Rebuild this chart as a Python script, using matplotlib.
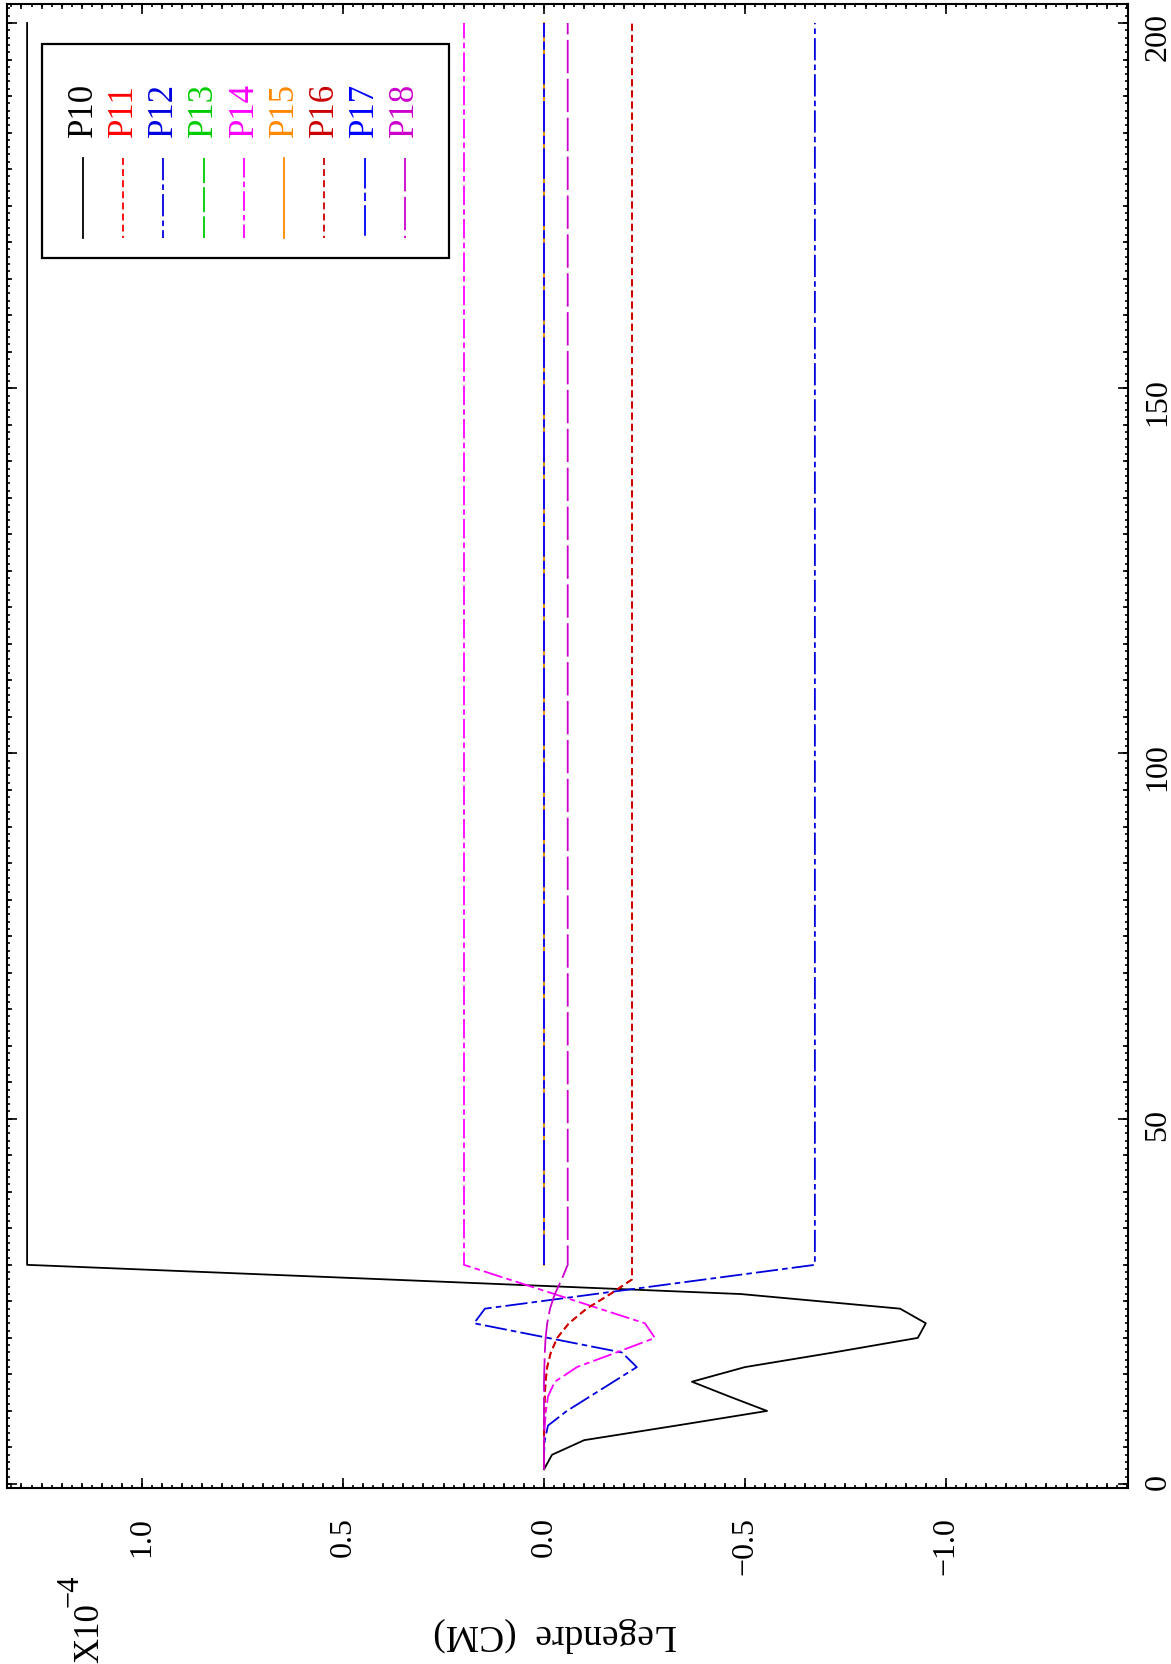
import numpy as np
import matplotlib
matplotlib.use("Agg")
import matplotlib.pyplot as plt
from matplotlib.ticker import MultipleLocator, NullLocator
from matplotlib.lines import Line2D
from matplotlib.patches import Rectangle

plt.rcParams['font.family'] = ['Liberation Serif', 'DejaVu Serif']
plt.rcParams['lines.scale_dashes'] = False

nan = float('nan')

# abscissa (0..200) and Legendre values in units of 1e-4 CM
xs = [2, 4, 6, 8, 10, 12, 14, 16, 18, 20, 22, 24, 26, 28, 30, 200]
p10 = [0, -0.02, -0.1, -0.33, -0.555, -0.46, -0.368, -0.50, -0.72, -0.93, -0.95, -0.886, -0.49, 0.39, 1.286, 1.286]
p11 = [0, 0, 0, 0, -0.001, -0.002, -0.004, -0.008, -0.017, -0.033, -0.062, -0.106, -0.165, -0.219, -0.219, -0.219]
p12 = [0, 0, -0.002, -0.01, -0.057, -0.115, -0.173, -0.231, -0.194, -0.01, 0.174, 0.147, -0.127, -0.40, -0.674, -0.674]
p13 = [nan] * 14 + [0, 0]
p14 = [0, 0, 0, -0.002, -0.005, -0.01, -0.027, -0.082, -0.18, -0.276, -0.251, -0.138, -0.026, 0.087, 0.199, 0.199]
p15 = [nan] * 14 + [0, 0]
p16 = [0, 0, 0, 0, -0.001, -0.002, -0.004, -0.008, -0.017, -0.033, -0.062, -0.106, -0.165, -0.219, -0.219, -0.219]
p17 = [nan] * 14 + [0, 0]
p18 = [0, 0, 0, 0, 0, 0, 0, -0.001, -0.002, -0.004, -0.008, -0.015, -0.027, -0.044, -0.059, -0.059]

names = ['P10', 'P11', 'P12', 'P13', 'P14', 'P15', 'P16', 'P17', 'P18']
series = [p10, p11, p12, p13, p14, p15, p16, p17, p18]
colors = ['black', '#ff0000', '#0000dd', '#00cc00', '#ff00ff', '#ff8800', '#cc0000', '#0000ff', '#cc00cc']
styles = ['-', (0, (5, 3)), (0, (16, 3, 4, 3)), (0, (18, 3)), (0, (14, 3, 4, 3)),
          '-', (0, (5, 3)), (0, (22, 3, 6, 3)), (0, (24, 4))]

fig = plt.figure(figsize=(11.71, 16.65), dpi=100)
pos = [7 / 1171, 176 / 1665, 1121 / 1171, 1484 / 1665]
ax = fig.add_axes(pos)

for vals, c, ls in zip(series, colors, styles):
    ax.plot(vals, xs, color=c, ls=ls, lw=1.3)

ax.set_xlim(1.336, -1.453)
ax.set_ylim(-0.55, 202.6)

ax.xaxis.set_major_locator(MultipleLocator(0.5))
ax.xaxis.set_minor_locator(MultipleLocator(0.025))
ax.yaxis.set_major_locator(MultipleLocator(50))
ax.yaxis.set_minor_locator(MultipleLocator(1))
ax.xaxis.set_major_formatter(lambda v, p: f"{v:.1f}".replace('-', '\u2212'))
ax.tick_params(which='both', direction='in', top=True, bottom=True, left=True, right=True, width=1.2)
ax.tick_params(which='major', length=7)
ax.tick_params(which='minor', length=2)
ax.tick_params(axis='x', labelrotation=90, labelsize=23, pad=20)
ax.tick_params(axis='y', labelleft=False, labelright=True, labelrotation=90, labelsize=23, pad=11)
for s in ax.spines.values():
    s.set_linewidth(1.5)

# medium ticks
ax2 = fig.add_axes(pos)
ax2.set_xlim(ax.get_xlim())
ax2.set_ylim(ax.get_ylim())
ax2.patch.set_visible(False)
for s in ax2.spines.values():
    s.set_visible(False)
ax2.xaxis.set_major_locator(MultipleLocator(0.05))
ax2.yaxis.set_major_locator(MultipleLocator(5))
ax2.xaxis.set_minor_locator(NullLocator())
ax2.yaxis.set_minor_locator(NullLocator())
ax2.tick_params(which='major', direction='in', length=3.5, width=1.2, top=True, bottom=True,
                left=True, right=True, labelbottom=False, labelleft=False)

# legend box
ax.add_patch(Rectangle((0.0312, 0.8288), 0.3631, 0.1442, transform=ax.transAxes,
                       fill=False, lw=1.6, ec='black', zorder=5))
for i, (nm, c, ls) in enumerate(zip(names, colors, styles)):
    cx = 0.0678 + i * 0.0359
    ax.add_line(Line2D([cx, cx], [0.8962, 0.8423], transform=ax.transAxes,
                       color=c, ls=ls, lw=1.3, zorder=5))
    ax.text(cx, 0.911, nm, transform=ax.transAxes, rotation=90, ha='center', va='bottom',
            color=c, fontsize=25, zorder=5)

fig.text(555 / 1171, 30 / 1665, 'Legendre  (CM)', rotation=180, ha='center', va='center', fontsize=27)
fig.text(90 / 1171, 2 / 1665, 'X10', rotation=90, ha='center', va='bottom', fontsize=25)
fig.text(70 / 1171, 58 / 1665, '\u22124', rotation=90, ha='center', va='bottom', fontsize=22)

fig.savefig('out.png', dpi=100)
